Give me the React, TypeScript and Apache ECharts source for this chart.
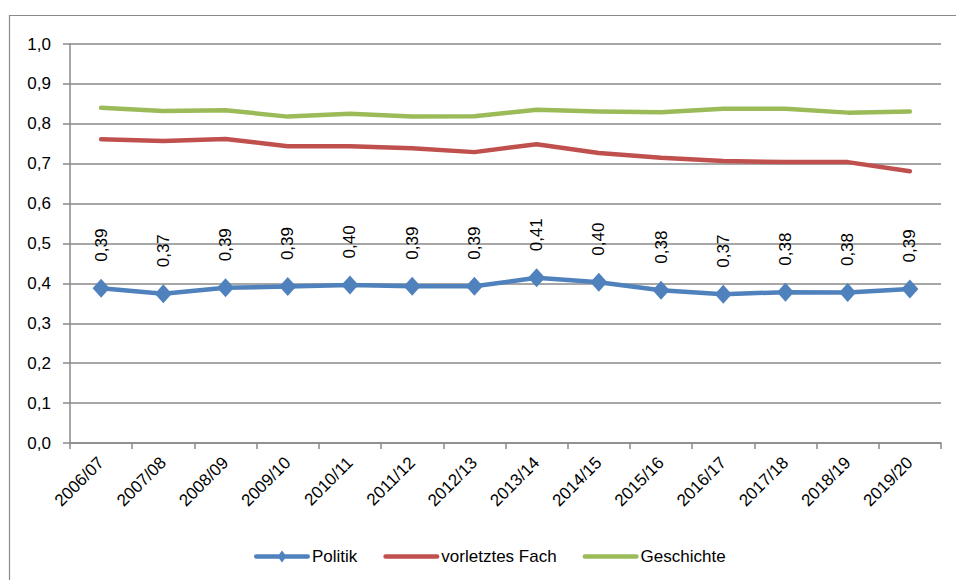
import React, { useEffect, useRef } from "react";
import * as echarts from "echarts";

const categories = [
  "2006/07", "2007/08", "2008/09", "2009/10", "2010/11", "2011/12", "2012/13",
  "2013/14", "2014/15", "2015/16", "2016/17", "2017/18", "2018/19", "2019/20",
];
const politik = [0.388, 0.374, 0.389, 0.392, 0.396, 0.393, 0.393, 0.414, 0.403, 0.383, 0.373, 0.378, 0.377, 0.386];
const vorletztesFach = [0.761, 0.757, 0.762, 0.744, 0.744, 0.739, 0.729, 0.749, 0.727, 0.715, 0.707, 0.704, 0.704, 0.681];
const geschichte = [0.840, 0.832, 0.834, 0.818, 0.825, 0.818, 0.819, 0.835, 0.831, 0.829, 0.838, 0.838, 0.828, 0.831];
const seriesNames = ["Politik", "vorletztes Fach", "Geschichte"];

const FONT = "'Liberation Sans', Arial, sans-serif";
const comma = (v: number, d: number) => v.toFixed(d).replace(".", ",");

const ICON_LINE_DIAMOND =
  "path://M2.25,4.75 L53.75,4.75 A2.25,2.25 0 0 1 53.75,9.25 L2.25,9.25 A2.25,2.25 0 0 1 2.25,4.75 Z M28,1 L32.5,7 L28,13 L23.5,7 Z";
const ICON_LINE = "path://M2.25,0 L53.75,0 A2.25,2.25 0 0 1 53.75,4.5 L2.25,4.5 A2.25,2.25 0 0 1 2.25,0 Z";

export default function App() {
  const ref = useRef<HTMLDivElement>(null);
  useEffect(() => {
    if (!ref.current) return;
    const chart = echarts.init(ref.current, undefined, { renderer: "svg" });
    const gray = "#8a8a8a";
    chart.setOption({
      animation: false,
      backgroundColor: "#ffffff",
      textStyle: { fontFamily: FONT },
      graphic: [
        {
          type: "rect",
          shape: { x: 9.5, y: 15.5, width: 1000, height: 1000 },
          style: { fill: "none", stroke: gray, lineWidth: 1.2 },
          silent: true,
        },
      ],
      grid: { left: 70, right: 15, top: 44, bottom: 137, containLabel: false },
      legend: {
        data: [
          { name: seriesNames[0], icon: ICON_LINE_DIAMOND },
          { name: seriesNames[1], icon: ICON_LINE },
          { name: seriesNames[2], icon: ICON_LINE },
        ],
        left: 249,
        top: 543,
        itemWidth: 56,
        itemHeight: 14,
        itemGap: 26,
        textStyle: { fontFamily: FONT, fontSize: 17, color: "#000", padding: [0, 0, 0, -3] },
      },
      xAxis: {
        type: "category",
        data: categories,
        boundaryGap: true,
        axisLine: { lineStyle: { color: gray, width: 1.5 } },
        axisTick: { show: true, length: 6, lineStyle: { color: gray, width: 1.5 } },
        axisLabel: { rotate: 45, margin: 17, fontFamily: FONT, fontSize: 17, color: "#000", interval: 0 },
      },
      yAxis: {
        type: "value",
        min: 0,
        max: 1,
        interval: 0.1,
        axisLine: { show: true, lineStyle: { color: gray, width: 1.5 } },
        axisTick: { show: true, length: 7, lineStyle: { color: gray, width: 1.5 } },
        splitLine: { lineStyle: { color: gray, width: 1.5 } },
        axisLabel: {
          margin: 19,
          fontFamily: FONT,
          fontSize: 17,
          color: "#000",
          formatter: (v: number) => comma(v, 1),
        },
      },
      series: [
        {
          name: seriesNames[0],
          type: "line",
          data: politik,
          color: "#4F81BD",
          lineStyle: { width: 4.5, color: "#4F81BD", cap: "round", join: "round" },
          symbol: "diamond",
          symbolSize: [17, 19],
          itemStyle: { color: "#4F81BD" },
          z: 5,
          label: {
            show: true,
            position: "top",
            distance: 17,
            rotate: 90,
            align: "left",
            verticalAlign: "middle",
            fontFamily: FONT,
            fontSize: 17,
            color: "#000",
            formatter: (p: any) => comma(p.value, 2),
          },
        },
        {
          name: seriesNames[1],
          type: "line",
          data: vorletztesFach,
          color: "#C0504D",
          lineStyle: { width: 4.5, color: "#C0504D", cap: "round", join: "round" },
          symbol: "none",
          showSymbol: false,
          itemStyle: { color: "#C0504D" },
        },
        {
          name: seriesNames[2],
          type: "line",
          data: geschichte,
          color: "#9BBB59",
          lineStyle: { width: 4.5, color: "#9BBB59", cap: "round", join: "round" },
          symbol: "none",
          showSymbol: false,
          itemStyle: { color: "#9BBB59" },
        },
      ],
    });
    return () => chart.dispose();
  }, []);
  return (
    <div
      ref={ref}
      style={{ position: "fixed", left: 0, top: 0, width: 956, height: 580, background: "#fff" }}
    />
  );
}
